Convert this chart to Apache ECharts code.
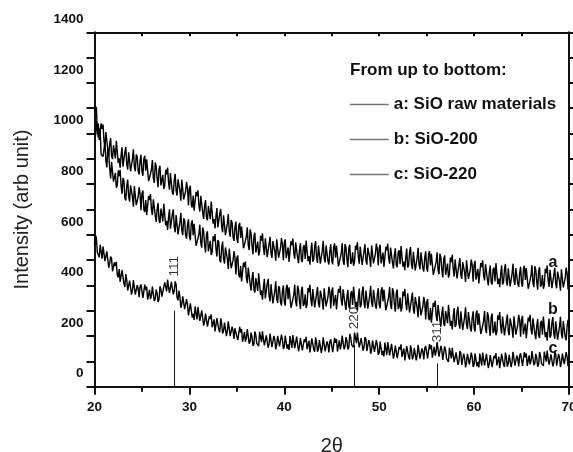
<!DOCTYPE html>
<html>
<head>
<meta charset="utf-8">
<script src="https://cdn.jsdelivr.net/npm/echarts@6/dist/echarts.min.js"></script>
<style>html,body{margin:0;padding:0;background:#fff}#chart{width:573px;height:452px}</style>
</head>
<body>
<div id="chart"></div>
<script>
// 2-theta sampling: readings at 20.0, 20.2, ... 70.0 and half-step readings at 20.1, 20.3, ... 69.9
const twoThetaStart = 20;
const twoThetaStep = 0.2;

const seriesNames = ['a: SiO raw materials', 'b: SiO-200', 'c: SiO-220'];

const seriesA = [
1088,1105,1040,974,1018,971,1006,938,959,911,954,902,964,902,914,869,927,879,926,851,900,869,917,852,892,
850,901,853,897,825,858,824,886,821,860,795,837,794,838,808,844,766,816,774,819,774,817,740,772,784,
783,718,755,699,753,716,754,689,713,668,714,662,724,662,674,629,684,633,677,599,645,612,658,591,629,
585,636,588,632,560,593,559,621,556,595,530,573,532,577,549,586,512,565,527,575,534,582,510,547,564,
568,508,550,500,559,527,570,511,540,501,552,505,573,516,534,494,554,509,558,486,537,508,558,496,538,
498,553,510,558,491,528,498,564,503,546,485,531,492,540,514,554,481,536,499,549,509,558,487,525,543,
547,487,530,479,539,507,550,490,520,480,531,484,551,494,511,471,531,484,533,459,510,481,531,468,510,
470,524,479,526,457,493,461,526,463,505,442,486,445,492,464,502,428,482,443,492,451,499,426,463,479,
483,423,465,414,473,441,484,424,452,412,463,416,483,427,444,404,464,419,468,396,447,419,469,407,449,
410,465,422,470,403,441,410,476,414,457,395,441,401,449,422,462,389,443,406,455,415,464,392,430,448,
418];
const seriesAHalf = [
1094,998,975,1040,1036,946,1007,911,982,899,959,971,884,865,946,876,947,858,926,848,938,851,909,838,916,
833,912,898,812,821,895,805,870,788,873,801,781,857,866,778,837,758,841,755,820,735,812,741,809,717,
794,708,695,770,776,692,756,663,737,657,719,731,644,625,706,634,702,610,675,594,682,593,649,576,652,
568,647,633,547,556,630,540,605,523,608,537,518,596,606,520,581,505,592,509,578,498,580,514,587,500,
582,501,493,574,585,506,575,488,567,493,560,577,496,482,569,502,575,489,559,484,576,491,551,483,563,
483,566,557,475,489,567,481,550,472,561,493,477,557,570,486,549,475,563,482,552,473,556,491,565,479,
561,480,473,553,565,486,555,467,547,472,539,556,474,460,546,479,552,464,534,457,549,464,524,455,535,
454,536,525,442,454,531,444,511,432,519,449,431,510,521,435,497,422,508,426,494,414,496,430,502,415,
497,416,408,488,499,420,489,400,479,404,471,488,406,393,479,412,485,399,469,394,486,402,462,394,474,
395,478,469,387,401,480,393,462,383,472,403,387,466,479,394,457,383,470,389,458,379,462,396,470,384];

const seriesB = [
1015,1049,984,1011,922,938,891,940,862,888,810,845,795,832,795,824,745,794,751,795,749,793,717,750,763,
763,699,737,682,737,701,740,676,701,657,704,653,716,655,668,624,681,632,678,602,650,618,665,599,638,
595,646,598,642,570,603,568,629,563,601,535,576,532,575,544,579,500,549,506,550,504,546,468,499,510,
508,441,477,419,472,433,471,405,429,383,429,378,441,380,393,349,407,358,405,329,378,348,398,334,376,
335,390,346,395,327,364,334,399,338,380,319,365,325,373,346,386,313,367,330,380,340,389,317,355,373,
378,319,362,312,372,341,385,326,356,317,369,323,391,335,353,314,375,330,380,308,360,332,383,321,364,
325,380,337,385,318,355,324,389,327,369,307,352,311,358,330,369,293,346,306,354,311,357,282,317,331,
333,271,311,258,315,281,323,262,290,249,299,251,318,260,277,236,296,249,298,224,275,246,295,232,273,
233,288,244,291,223,260,229,294,232,274,212,257,217,265,238,277,203,258,220,270,229,278,206,244,261,
266,207,249,199,258,227,270,211,240,201,252,205,273,216,234,194,254,209,258,186,237,208,259,196,239,
230];
const seriesBHalf = [
989,1051,1020,917,909,969,866,918,823,895,813,786,855,857,762,816,736,818,731,795,711,789,719,788,697,
775,690,678,754,761,678,743,651,726,647,710,723,637,619,701,630,700,610,677,598,687,599,656,584,661,
578,657,643,557,566,640,549,613,530,614,541,520,595,603,514,571,491,573,486,550,465,541,469,536,443,
518,431,416,490,494,409,473,379,453,372,435,448,362,344,426,356,426,337,404,326,416,331,390,321,400,
320,403,393,312,325,403,317,385,307,395,327,311,390,403,318,381,307,394,313,383,304,387,321,395,309,
392,312,305,386,398,320,390,303,383,309,377,395,314,301,388,322,396,310,381,306,399,315,376,308,389,
310,393,384,302,316,394,307,375,296,384,315,297,376,387,302,363,286,372,288,356,274,353,285,355,266,
346,263,253,331,340,259,327,238,316,240,306,323,240,226,311,244,316,229,298,222,314,228,288,218,298,
218,301,290,208,221,299,212,280,201,289,220,203,282,295,210,272,197,285,203,273,193,276,210,284,197,
280,200,192,273,284,206,275,188,267,193,260,277,196,182,269,202,275,189,259,184,276,191,252,183,264];

const seriesC = [
562,587,537,561,506,526,498,536,486,506,453,477,440,465,437,456,394,421,387,416,382,415,363,387,396,
398,354,381,344,383,360,390,347,368,345,385,358,412,377,394,370,413,379,404,341,355,326,353,301,323,
287,322,288,317,266,288,263,305,258,284,237,267,235,266,244,269,215,249,220,251,220,252,199,222,231,
232,187,214,177,216,192,221,178,197,169,203,170,217,176,188,160,202,169,203,152,187,166,201,158,187,
158,197,167,200,153,179,157,203,159,189,145,177,148,182,163,190,138,176,149,184,155,190,140,166,178,
182,141,173,139,183,164,197,158,181,157,195,165,214,172,181,150,190,156,188,136,169,147,181,136,164,
134,173,141,174,125,151,129,174,130,159,115,147,118,151,132,159,108,145,119,153,125,161,111,139,152,
157,117,148,115,158,139,170,126,144,112,143,109,154,112,122,93,134,100,133,81,115,94,130,86,116,
87,127,97,131,83,110,89,135,92,122,79,112,84,119,101,129,78,116,91,126,98,133,83,111,123,
128,86,116,82,124,104,135,93,114,87,123,91,139,99,111,84,127,95,129,79,115,95,131,88,118,
105];
const seriesCHalf = [
599,530,511,554,554,496,535,470,514,456,491,493,432,414,461,408,445,380,419,364,421,364,401,354,404,
351,403,395,339,346,396,339,384,335,397,356,352,409,423,371,414,365,416,351,380,312,357,306,346,282,
329,273,264,312,315,260,302,241,289,237,278,286,230,218,271,225,270,210,253,200,258,200,237,189,238,
184,236,228,172,178,228,170,214,161,218,171,160,211,219,163,203,154,210,156,201,148,201,159,206,149,
202,150,145,197,204,152,198,140,192,143,187,197,145,135,191,147,195,138,184,134,195,140,179,135,187,
136,193,188,137,148,202,148,196,147,208,165,156,208,214,155,192,142,196,141,184,130,182,138,184,126,
178,125,119,170,176,124,169,111,162,113,157,167,114,104,160,117,164,108,153,104,165,111,151,108,161,
112,168,164,112,123,176,119,161,106,159,111,98,148,154,97,136,86,141,86,130,76,130,87,135,78,
132,80,76,127,135,84,130,73,125,77,122,133,81,73,130,87,135,79,126,77,138,83,123,80,132,
82,137,131,79,88,141,85,130,79,137,92,82,134,143,87,128,80,137,83,129,77,131,89,137,81];

// reflection markers (hkl), their 2-theta, stick heights and label heights
const peakNames = ['111', '220', '311'];
const peakTwoTheta = [28.43, 47.33, 56.13];
const peakStickTop = [300, 165, 92];
const peakLabelY = [476, 271, 218];

// curve tags at the right end
const curveTags = ['a', 'b', 'c'];
const curveTagX = 68.3;
const curveTagY = [489, 303, 149];

// interleave the on-grid readings and the half-step readings into [2theta, intensity] pairs
function pairs(grid, half) {
  const out = [];
  for (let i = 0; i < grid.length; i++) {
    out.push([+(twoThetaStart + i * twoThetaStep).toFixed(2), grid[i]]);
    if (i < half.length) {
      out.push([+(twoThetaStart + i * twoThetaStep + twoThetaStep / 2).toFixed(2), half[i]]);
    }
  }
  return out;
}

const FONT = '"Liberation Sans", Arial, Helvetica, sans-serif';
const INK = '#111';

const allSeries = [[seriesA, seriesAHalf], [seriesB, seriesBHalf], [seriesC, seriesCHalf]];

const lineSeries = allSeries.map((vals, k) => {
  const s = {
    name: seriesNames[k],
    type: 'line',
    data: pairs(vals[0], vals[1]),
    symbol: 'none',
    showSymbol: false,
    sampling: 'none',
    lineStyle: { color: '#000', width: 1.4 },
    itemStyle: { color: '#000' },
    silent: true,
    z: 3,
    markPoint: {
      symbol: 'circle',
      symbolSize: 0,
      silent: true,
      label: {
        show: true, position: 'inside', formatter: curveTags[k],
        fontSize: 16, fontWeight: 'bold', color: INK, fontFamily: FONT
      },
      data: [{ coord: [curveTagX, curveTagY[k]] }]
    }
  };
  if (k === 2) {
    s.markLine = {
      silent: true,
      symbol: ['none', 'none'],
      label: { show: false },
      lineStyle: { color: INK, width: 1, type: 'solid' },
      data: peakTwoTheta.map((x, i) => [{ coord: [x, 0] }, { coord: [x, peakStickTop[i]] }])
    };
  }
  return s;
});

const peakLabelSeries = {
  name: 'peaks',
  type: 'scatter',
  symbolSize: 0,
  silent: true,
  data: peakTwoTheta.map((x, i) => ({ value: [x, peakLabelY[i]], name: peakNames[i] })),
  label: {
    show: true, position: 'inside', rotate: 90,
    formatter: p => p.name,
    fontSize: 13.5, color: '#000', fontFamily: FONT
  },
  z: 4
};

const axisLineStyle = { color: INK, width: 2 };

const option = {
  animation: false,
  backgroundColor: '#fff',
  textStyle: { fontFamily: FONT },
  title: {
    text: 'From up to bottom:',
    left: 350, top: 62, padding: 0,
    textStyle: { fontSize: 17, fontWeight: 'bold', color: INK, fontFamily: FONT }
  },
  legend: {
    data: seriesNames,
    orient: 'vertical',
    left: 349, top: 96, padding: 0,
    itemWidth: 39, itemHeight: 17, itemGap: 18,
    selectedMode: false,
    textStyle: { fontSize: 17, fontWeight: 'bold', color: INK, fontFamily: FONT },
    lineStyle: { color: '#777', width: 1.5 },
    itemStyle: { opacity: 0 }
  },
  grid: { left: 94.5, right: 4, top: 32.3, bottom: 65.3, containLabel: false, outerBoundsMode: 'none' },
  xAxis: [{
    type: 'value', position: 'bottom', min: 20, max: 70, interval: 10,
    axisLine: { show: true, onZero: false, lineStyle: axisLineStyle },
    axisTick: { show: true, inside: false, length: 8, lineStyle: { color: INK, width: 2 } },
    minorTick: { show: true, splitNumber: 2, length: 5, lineStyle: { color: INK, width: 2 } },
    splitLine: { show: false },
    axisLabel: { fontSize: 13.5, fontWeight: 'bold', color: INK, margin: 14, fontFamily: FONT },
    name: '2θ', nameLocation: 'middle', nameGap: 50,
    nameTextStyle: { fontSize: 20, color: '#222', fontFamily: FONT }
  }, {
    type: 'value', position: 'top', min: 20, max: 70, interval: 5,
    axisLine: { show: true, onZero: false, lineStyle: axisLineStyle },
    axisTick: { show: true, inside: true, length: 4, lineStyle: { color: INK, width: 2 } },
    axisLabel: { show: false },
    splitLine: { show: false }
  }],
  yAxis: [{
    type: 'value', position: 'left', min: 0, max: 1400, interval: 100,
    axisLine: { show: true, onZero: false, lineStyle: axisLineStyle },
    axisTick: { show: true, inside: false, length: 8, lineStyle: { color: INK, width: 2 } },
    splitLine: { show: false },
    axisLabel: {
      fontSize: 13.5, fontWeight: 'bold', color: INK, margin: 11, fontFamily: FONT,
      verticalAlign: 'bottom', lineHeight: 26,
      formatter: v => (v % 200 === 0 ? String(v) : '')
    },
    name: 'Intensity (arb unit)', nameLocation: 'middle', nameGap: 62,
    nameTextStyle: { fontSize: 20, color: '#222', fontFamily: FONT }
  }, {
    type: 'value', position: 'right', min: 0, max: 1400, interval: 100,
    axisLine: { show: true, onZero: false, lineStyle: axisLineStyle },
    axisTick: { show: true, inside: false, length: 4, lineStyle: { color: INK, width: 2 } },
    axisLabel: { show: false },
    splitLine: { show: false }
  }],
  series: [...lineSeries, peakLabelSeries]
};

const chart = echarts.init(document.getElementById('chart'), null, { renderer: 'canvas' });
chart.setOption(option);
</script>
</body>
</html>
